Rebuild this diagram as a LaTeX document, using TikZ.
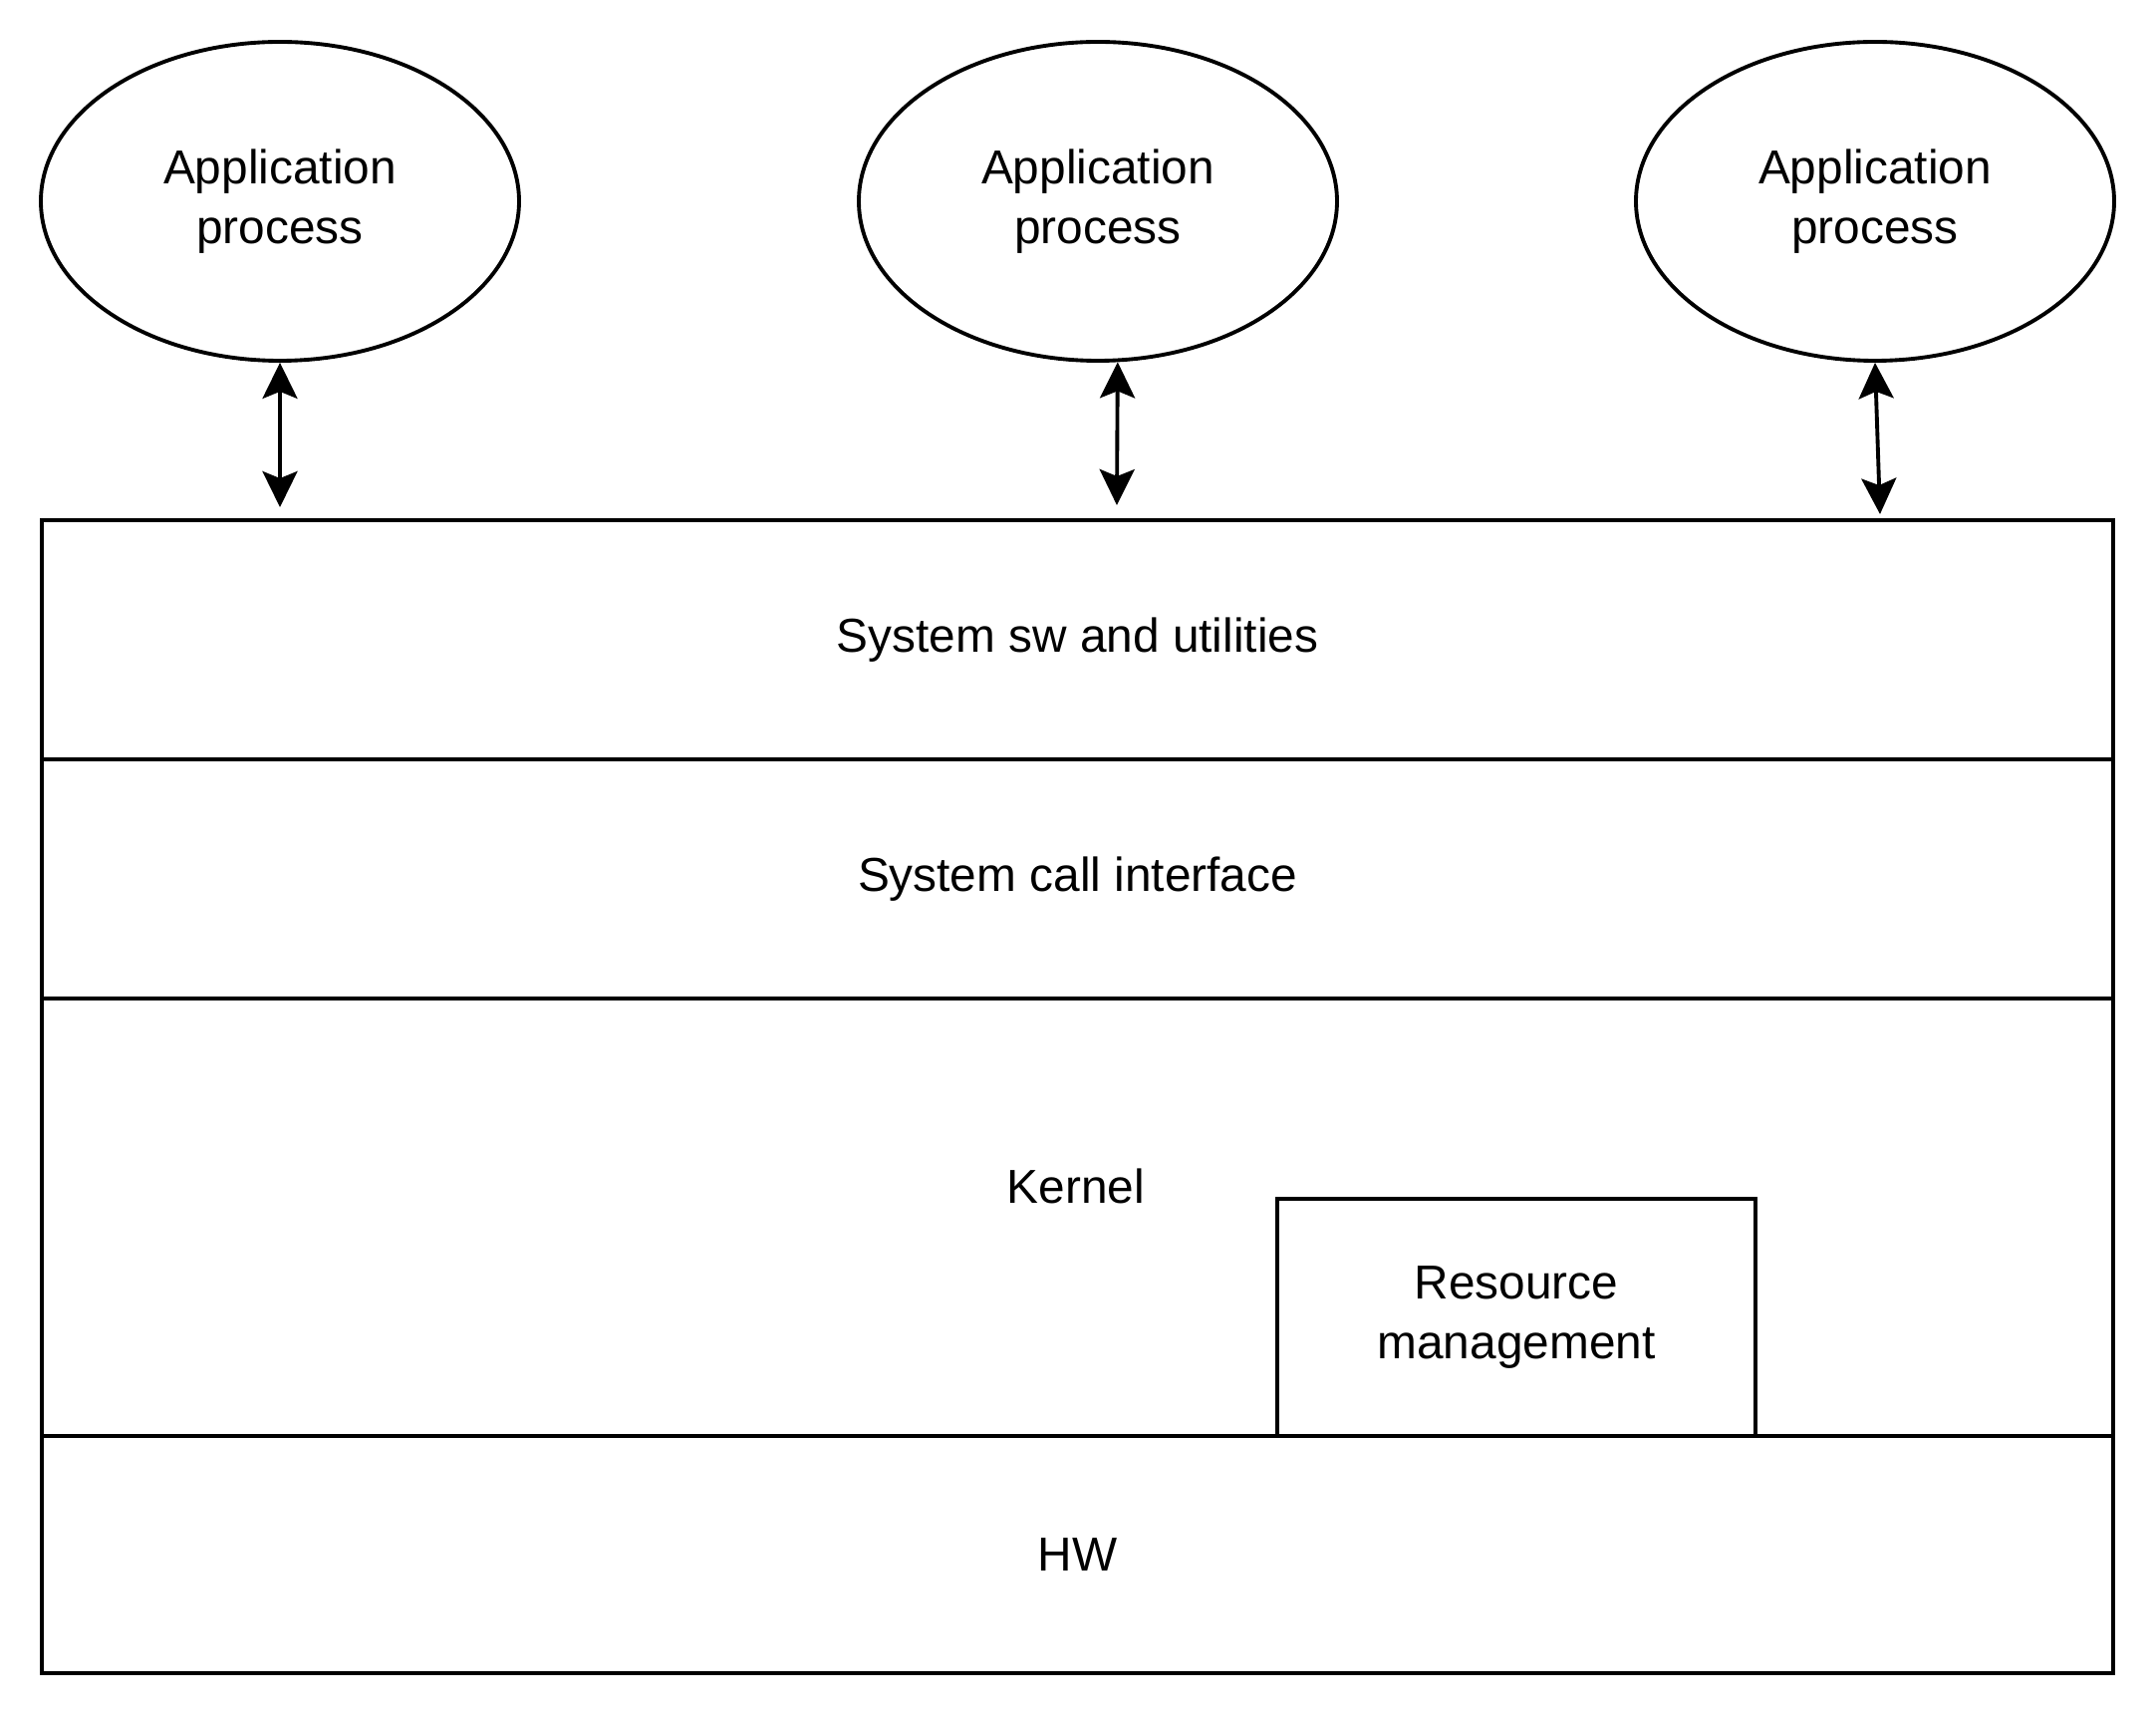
\documentclass[tikz,border=0pt]{standalone}
\usepackage{fontspec}
\setmainfont{Liberation Sans}
\usetikzlibrary{positioning,arrows.meta,shapes.geometric}
\tikzset{
  every node/.style={font=\fontsize{13.6pt}{17pt}\selectfont,align=center},
}

\begin{document}
\begin{tikzpicture}[>={Stealth[length=3.6mm,width=3.5mm,inset=0.7mm]},line width=1.1pt,
   app/.style={ellipse,draw,minimum width=4.8cm,minimum height=3.2cm,inner sep=0pt},
   lay/.style={draw,minimum width=20.79cm,outer sep=0pt,inner sep=0pt},
   blk/.style={draw,minimum width=4.8cm,minimum height=2.38cm,outer sep=0pt}]
\useasboundingbox (0,0) rectangle (21.64,-17.24);
% Procesy
\node[app] (p1) at (2.81,-2.02) {Application\\process};
\node[app] (p2) at (11.02,-2.02) {Application\\process};
\node[app] (p3) at (18.82,-2.02) {Application\\process};
% Vrstvy
\node[lay,minimum height=2.4cm] (sys) at (10.815,-6.42) {System sw and utilities};
\node[lay,minimum height=2.4cm] (sci) [below=0cm of sys] {System call interface};
\node[lay,minimum height=4.39cm] (kern) [below=0cm of sci] {};
\node (kt) at (10.80,-11.90) {Kernel};
\node[lay,minimum height=2.38cm] (hw) [below=0cm of kern] {HW};
\node[blk] (res) [above left=0cm and 3.59cm of kern.south east] {Resource\\management};
% Volani
\coordinate (t1) at (2.81,-5.09);
\coordinate (t2) at (11.21,-5.07);
\coordinate (t3) at (18.87,-5.16);
\path (p1.south) edge[<->] (t1)
      (p2.-83) edge[<->] (t2)
      (p3.south) edge[<->] (t3);
\end{tikzpicture}
\end{document}
